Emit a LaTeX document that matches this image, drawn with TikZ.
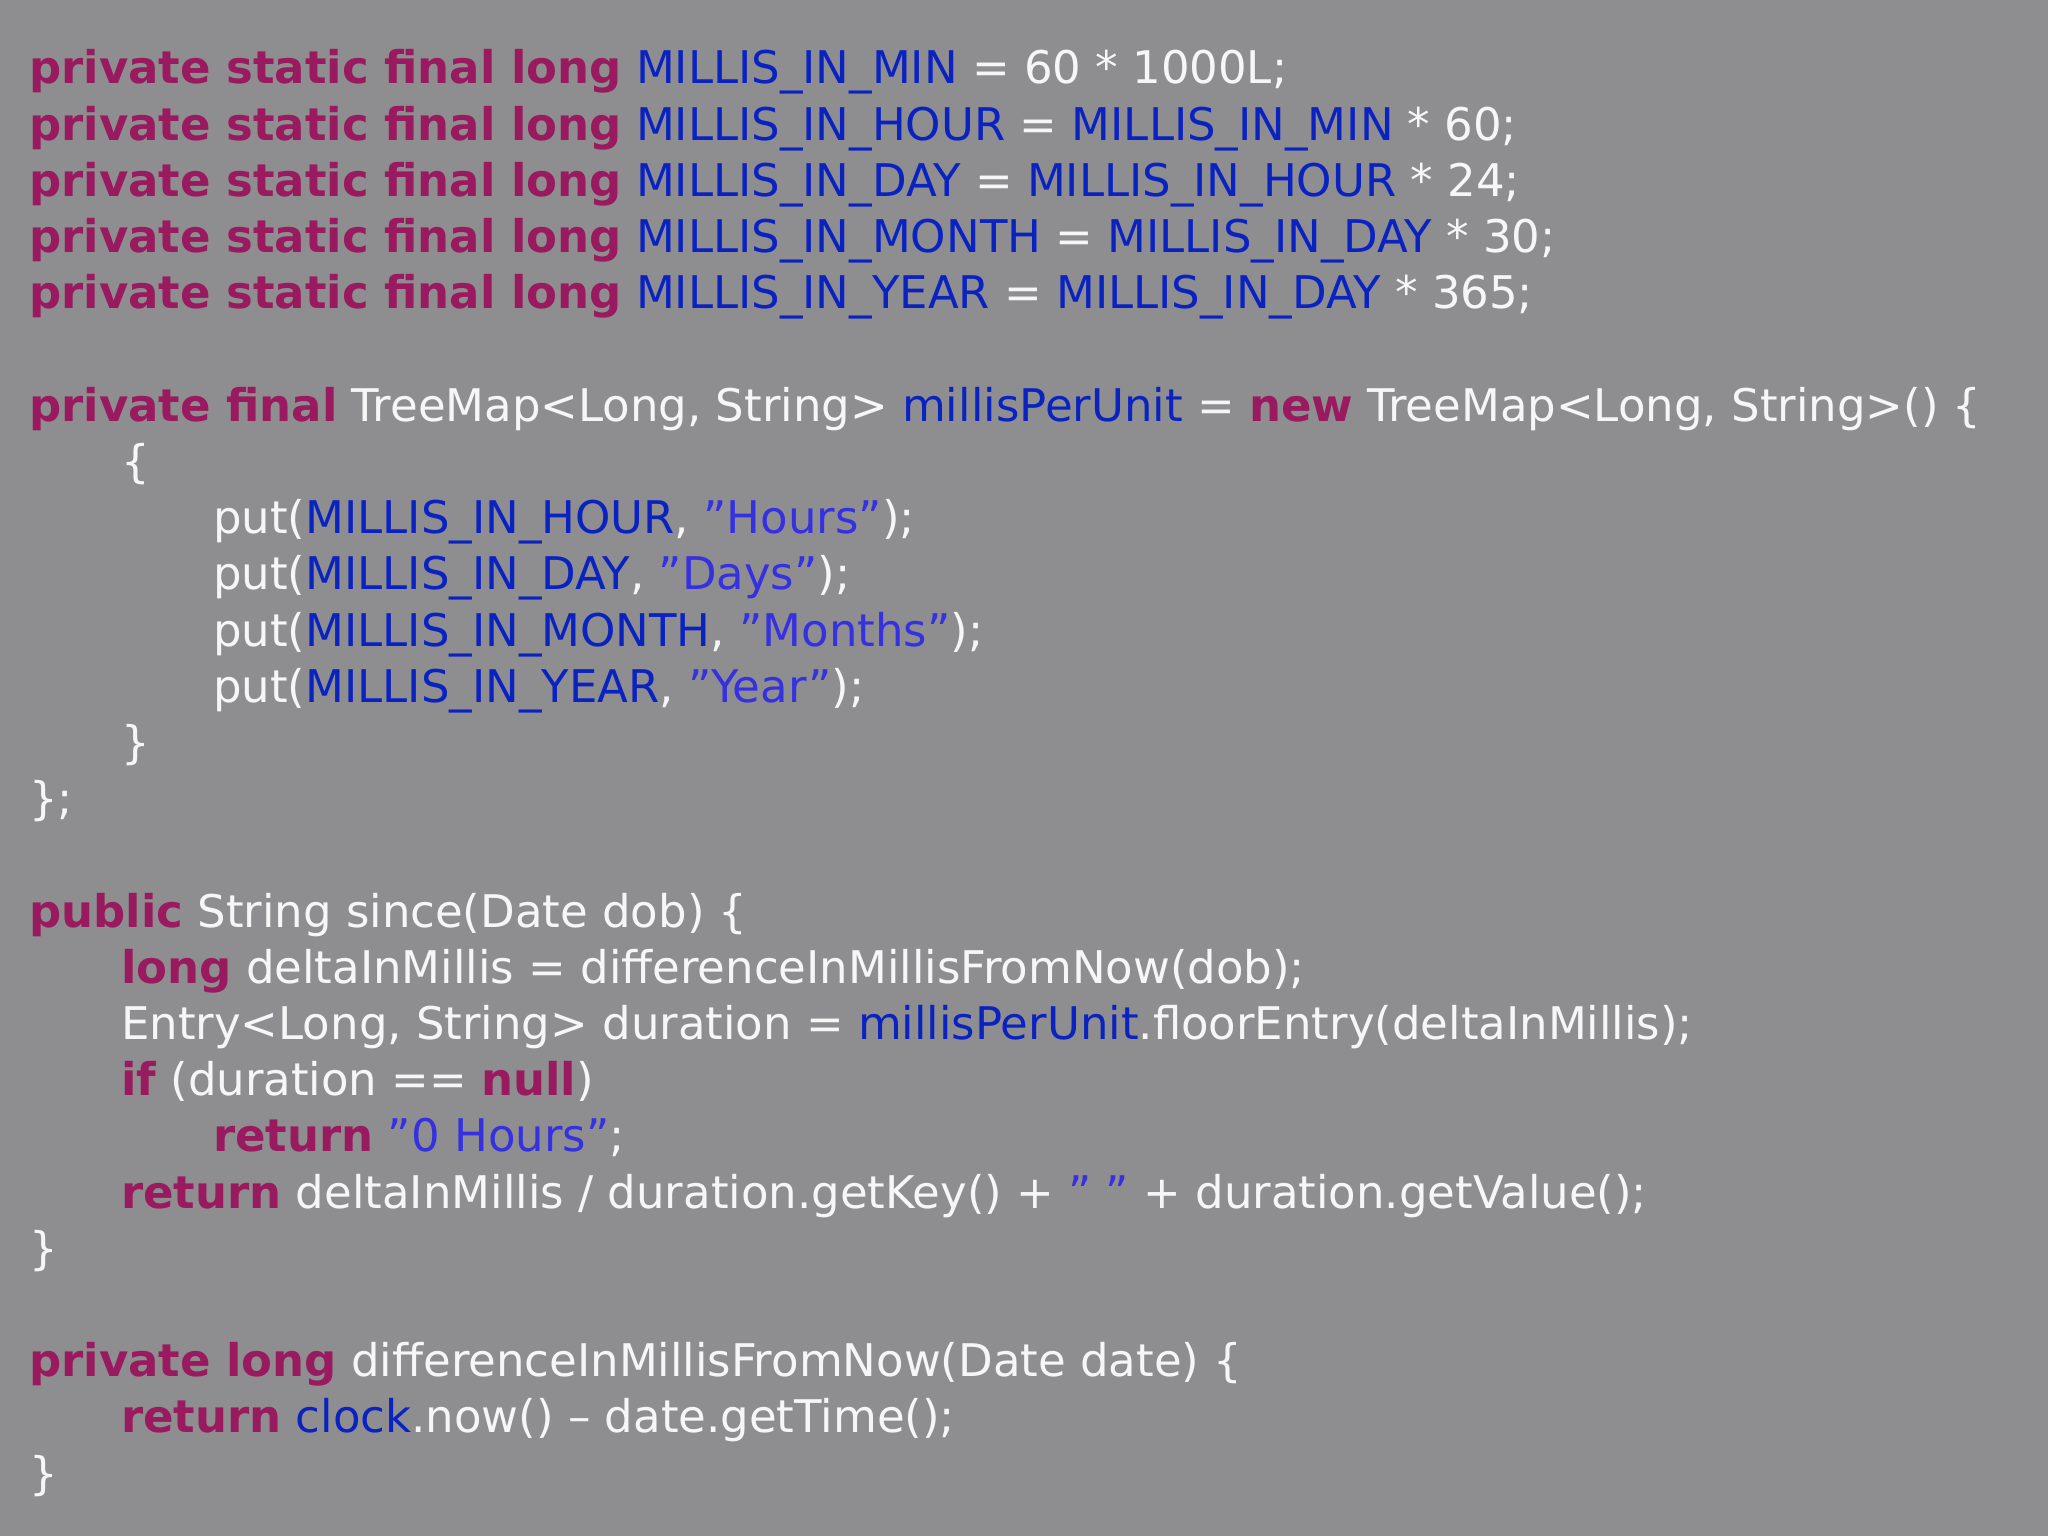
\documentclass[tikz,border=0pt]{standalone}
\usepackage{fontspec}
\setmainfont{DejaVu Sans}
\definecolor{bg}{HTML}{8E8E90}
\definecolor{kwc}{HTML}{9A1A60}
\definecolor{idc}{HTML}{0A22C0}
\definecolor{stc}{HTML}{3530E0}
\definecolor{txc}{HTML}{F6F6F6}
\newcommand{\kw}[1]{\textcolor{kwc}{\bfseries #1}}
\newcommand{\idn}[1]{\textcolor{idc}{#1}}
\newcommand{\str}[1]{\textcolor{stc}{\char34 #1\char34}}
\tikzset{codeline/.style={anchor=base west,inner sep=0pt,text=txc,font=\fontsize{45}{54}\selectfont}}
\begin{document}
\begin{tikzpicture}[x=1pt,y=-1pt]
\fill[bg] (0,0) rectangle (2048,1536);
\useasboundingbox (0,0) rectangle (2048,1536);
\def\p{56.2}
\def\a{29}\def\b{121}\def\c{213}
\node[codeline] (l1) at (\a,84) {\kw{private static final long} \idn{MILLIS\_IN\_MIN} = 60 * 1000L;};
\node[codeline] (l2) at (\a,{84+1*\p}) {\kw{private static final long} \idn{MILLIS\_IN\_HOUR} = \idn{MILLIS\_IN\_MIN} * 60;};
\node[codeline] (l3) at (\a,{84+2*\p}) {\kw{private static final long} \idn{MILLIS\_IN\_DAY} = \idn{MILLIS\_IN\_HOUR} * 24;};
\node[codeline] (l4) at (\a,{84+3*\p}) {\kw{private static final long} \idn{MILLIS\_IN\_MONTH} = \idn{MILLIS\_IN\_DAY} * 30;};
\node[codeline] (l5) at (\a,{84+4*\p}) {\kw{private static final long} \idn{MILLIS\_IN\_YEAR} = \idn{MILLIS\_IN\_DAY} * 365;};
\node[codeline] (l7) at (\a,{84+6*\p}) {\kw{private final} TreeMap<Long, String> \idn{millisPerUnit} = \kw{new} TreeMap<Long, String>() \{};
\node[codeline] (l8) at (\b,{84+7*\p}) {\{};
\node[codeline] (l9) at (\c,{84+8*\p}) {put(\idn{MILLIS\_IN\_HOUR}, \str{Hours});};
\node[codeline] (l10) at (\c,{84+9*\p}) {put(\idn{MILLIS\_IN\_DAY}, \str{Days});};
\node[codeline] (l11) at (\c,{84+10*\p}) {put(\idn{MILLIS\_IN\_MONTH}, \str{Months});};
\node[codeline] (l12) at (\c,{84+11*\p}) {put(\idn{MILLIS\_IN\_YEAR}, \str{Year});};
\node[codeline] (l13) at (\b,{84+12*\p}) {\}};
\node[codeline] (l14) at (\a,{84+13*\p}) {\};};
\node[codeline] (l16) at (\a,{84+15*\p}) {\kw{public} String since(Date dob) \{};
\node[codeline] (l17) at (\b,{84+16*\p}) {\kw{long} deltaInMillis = differenceInMillisFromNow(dob);};
\node[codeline] (l18) at (\b,{84+17*\p}) {Entry<Long, String> duration = \idn{millisPerUnit}.floorEntry(deltaInMillis);};
\node[codeline] (l19) at (\b,{84+18*\p}) {\kw{if} (duration == \kw{null})};
\node[codeline] (l20) at (\c,{84+19*\p}) {\kw{return} \str{0 Hours};};
\node[codeline] (l21) at (\b,{84+20*\p}) {\kw{return} deltaInMillis / duration.getKey() + \str{ } + duration.getValue();};
\node[codeline] (l22) at (\a,{84+21*\p}) {\}};
\node[codeline] (l24) at (\a,{84+23*\p}) {\kw{private long} differenceInMillisFromNow(Date date) \{};
\node[codeline] (l25) at (\b,{84+24*\p}) {\kw{return} \idn{clock}.now() – date.getTime();};
\node[codeline] (l26) at (\a,{84+25*\p}) {\}};
\end{tikzpicture}
\end{document}
